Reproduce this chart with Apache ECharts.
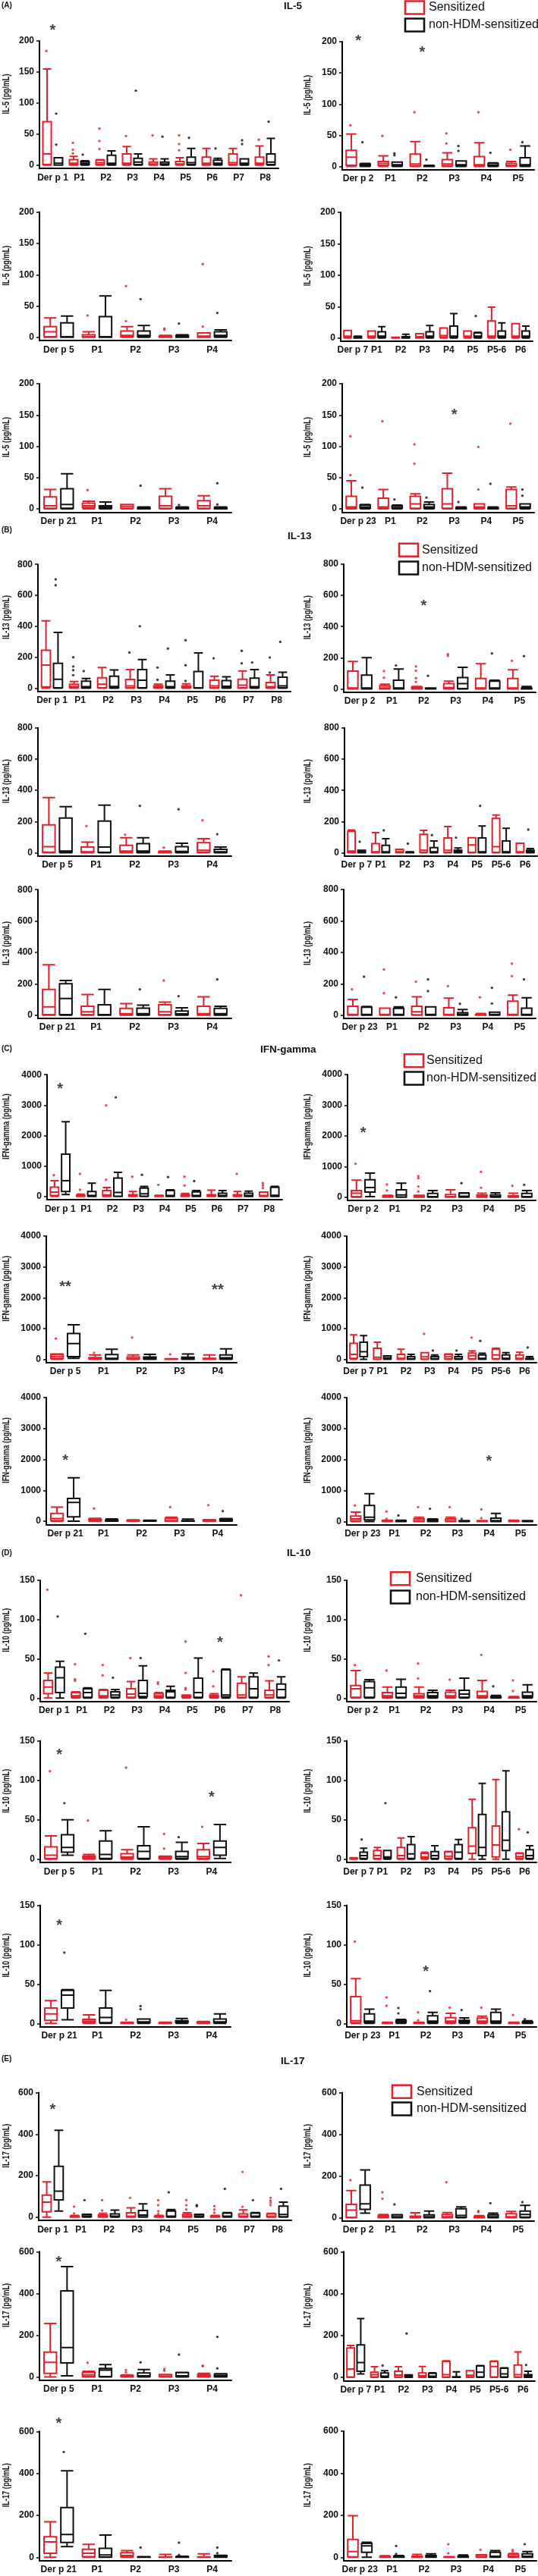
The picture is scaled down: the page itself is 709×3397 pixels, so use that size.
<!DOCTYPE html>
<html><head><meta charset="utf-8">
<script src="https://cdn.jsdelivr.net/npm/echarts@6/dist/echarts.min.js"></script>
<style>html,body{margin:0;padding:0;background:#fff}#c{width:709px;height:3397px}</style>
</head><body><div id="c"></div>
<script>
// ---------- categories ----------
const catsDerp1 = ['Der p 1','P1','P2','P3','P4','P5','P6','P7','P8'];
const catsDerp2 = ['Der p 2','P1','P2','P3','P4','P5'];
const catsDerp5 = ['Der p 5','P1','P2','P3','P4'];
const catsDerp7 = ['Der p 7','P1','P2','P3','P4','P5','P5-6','P6'];
const catsDerp21 = ['Der p 21','P1','P2','P3','P4'];
const catsDerp23 = ['Der p 23','P1','P2','P3','P4','P5'];

// ---------- tick labels ----------
const il5Ticks = [0,50,100,150,200];
const il13Ticks = [0,200,400,600,800];
const ifnTicks = [0,1000,2000,3000,4000];
const il10Ticks = [0,50,100,150];
const il17Ticks = [0,200,400,600];

// ---------- IL-5 ----------  box = [min,Q1,median,Q3,max]
const il5_derp1_sens = [[0,1,18,70,155],[0,1,3,9,14],[0,1,4,8,9],[0,1,3,18,30],[0,1,2,5,10],[0,1,2,6,12],[0,1,3,13,27],[0,1,4,18,27],[0,1,3,13,31]];
const il5_derp1_ctrl = [[0,0,3,12,12],[0,1,3,6,7],[0,1,3,16,23],[0,1,5,11,18],[0,1,2,5,10],[0,1,4,13,27],[0,1,3,8,11],[0,1,3,10,10],[0,1,5,18,43]];
const il5_derp1_sensOut = [[184],[36,25,19],[59,39,26],[47],[48],[48,34,24],[],[],[41]];
const il5_derp1_ctrlOut = [[83,33],[17],[],[120],[46],[44],[27],[40,34],[70]];
const il5_derp1_stars = [[0,223,'*']];

const il5_derp2_sens = [[0,2,15,26,52],[0,2,5,8,17],[0,1,4,20,40],[0,1,4,11,22],[0,1,3,16,38],[0,1,2,5,8]];
const il5_derp2_ctrl = [[0,1,2,4,5],[0,1,3,7,7],[0,0,1,1,2],[0,1,3,9,9],[0,1,2,5,6],[0,1,3,14,33]];
const il5_derp2_sensOut = [[66],[49],[87],[53,37],[87],[27]];
const il5_derp2_ctrlOut = [[39],[21,18],[11],[33,25],[22],[39]];
const il5_derp2_stars = [[0,207,'*'],[2,189,'*']];

const il5_derp5_sens = [[0,1,9,17,31],[0,0,1,4,9],[0,1,3,10,17],[0,0,1,2,3],[0,0,2,7,7]];
const il5_derp5_ctrl = [[0,0,1,23,34],[0,0,1,33,66],[0,1,3,10,19],[0,0,1,3,4],[0,1,3,9,12]];
const il5_derp5_sensOut = [[],[35],[82,26],[14,12],[117,17]];
const il5_derp5_ctrlOut = [[],[],[61],[22],[39]];

const il5_derp7_sens = [[0,1,3,12,12],[0,1,3,11,11],[0,0,0,1,1],[0,0,2,7,7],[0,1,4,16,16],[0,1,3,11,11],[0,1,3,27,49],[0,1,3,23,23]];
const il5_derp7_ctrl = [[0,0,1,2,3],[0,1,3,10,18],[0,0,1,2,6],[0,1,3,10,20],[0,1,3,19,39],[0,1,3,8,9],[0,1,3,11,24],[0,1,3,11,19]];
const il5_derp7_sensOut = [[],[],[],[],[],[],[],[]];
const il5_derp7_ctrlOut = [[],[],[],[],[],[35],[],[]];

const il5_derp21_sens = [[0,1,5,19,31],[0,2,5,9,12],[0,1,4,7,7],[0,1,5,20,32],[0,1,5,13,21]];
const il5_derp21_ctrl = [[0,1,7,32,56],[0,1,3,5,11],[0,0,1,2,3],[0,0,1,2,3],[0,0,1,2,3]];
const il5_derp21_sensOut = [[],[30],[],[],[]];
const il5_derp21_ctrlOut = [[],[],[37],[6],[41,7]];

const il5_derp23_sens = [[0,1,3,20,45],[0,1,3,17,31],[0,1,8,20,24],[0,1,8,32,57],[0,1,3,8,8],[0,1,5,31,35]];
const il5_derp23_ctrl = [[0,1,3,6,7],[0,1,2,5,6],[0,1,3,7,11],[0,0,1,2,3],[0,0,1,2,3],[0,1,3,8,8]];
const il5_derp23_sensOut = [[116,54],[140],[103,72],[],[99,31],[136]];
const il5_derp23_ctrlOut = [[34],[15],[18],[11],[40],[31,21]];
const il5_derp23_stars = [[3,156,'*']];

// ---------- IL-13 ----------
const il13_derp1_sens = [[0,8,150,245,435],[0,3,11,26,43],[0,3,26,67,133],[0,2,15,56,120],[0,2,6,15,26],[0,2,6,15,28],[0,3,15,52,77],[0,2,19,58,112],[0,2,10,37,86]];
const il13_derp1_ctrl = [[0,2,58,161,360],[0,2,10,45,62],[0,2,11,77,118],[0,3,52,120,185],[0,2,10,45,86],[0,1,3,108,228],[0,2,12,49,73],[0,2,10,65,120],[0,3,15,71,103]];
const il13_derp1_sensOut = [[],[200,140,116,84],[],[230],[133,54],[310,148,47],[193],[241,161],[198,101]];
const il13_derp1_ctrlOut = [[703,665],[110],[],[400],[256],[],[],[166],[299]];

const il13_derp2_sens = [[0,1,5,114,176],[0,1,6,19,30],[0,1,4,12,15],[0,2,8,34,49],[0,1,5,67,161],[0,1,5,67,122]];
const il13_derp2_ctrl = [[0,1,5,88,200],[0,1,5,56,127],[0,0,1,4,6],[0,2,34,73,138],[0,1,5,50,56],[0,0,2,5,15]];
const il13_derp2_sensOut = [[],[114,71],[144,116,69,45],[222,212],[],[180]];
const il13_derp2_ctrlOut = [[],[150],[84],[],[227],[210]];
const il13_derp2_stars = [[2,556,'*']];

const il13_derp5_sens = [[0,3,39,178,353],[0,1,6,36,68],[0,2,10,47,96],[0,0,2,5,10],[0,3,15,64,90]];
const il13_derp5_ctrl = [[0,2,11,222,295],[0,2,36,203,304],[0,2,10,58,96],[0,2,8,38,60],[0,2,6,21,36]];
const il13_derp5_sensOut = [[],[171],[115],[32],[207]];
const il13_derp5_ctrlOut = [[],[],[300],[278],[118]];

const il13_derp7_sens = [[0,2,10,137,145],[0,1,5,58,128],[0,1,5,21,21],[0,2,15,118,143],[0,2,15,94,167],[0,2,49,96,96],[0,2,38,220,242],[0,1,5,60,60]];
const il13_derp7_ctrl = [[0,1,5,15,15],[0,1,5,47,90],[0,0,1,3,5],[0,1,5,32,75],[0,1,5,15,30],[0,1,5,94,171],[0,1,5,75,156],[0,1,5,15,26]];
const il13_derp7_sensOut = [[],[],[],[],[],[],[],[]];
const il13_derp7_ctrlOut = [[70],[143],[58],[113],[96],[300],[],[148]];

const il13_derp21_sens = [[0,3,53,164,321],[0,3,21,57,132],[0,2,10,43,74],[0,3,21,66,83],[0,2,10,57,117]];
const il13_derp21_ctrl = [[0,3,106,200,221],[0,1,3,66,164],[0,2,10,45,64],[0,2,8,26,47],[0,2,10,43,57]];
const il13_derp21_sensOut = [[],[],[],[221],[]];
const il13_derp21_ctrlOut = [[],[],[164],[121],[228]];

const il13_derp23_sens = [[0,1,5,57,100],[0,1,5,45,45],[0,2,21,57,117],[0,1,5,47,108],[0,0,1,3,11],[0,1,5,89,128]];
const il13_derp23_ctrl = [[0,1,5,51,55],[0,1,5,43,53],[0,1,5,53,53],[0,1,5,15,36],[0,1,5,19,19],[0,1,5,45,111]];
const il13_derp23_sensOut = [[164],[291,140],[213],[185],[113],[328,249]];
const il13_derp23_ctrlOut = [[245],[113],[228,153],[72],[174,74],[228]];

// ---------- IFN-gamma ----------
const ifn_derp1_sens = [[0,33,142,307,515],[0,5,15,40,77],[0,10,50,197,296],[0,5,20,55,164],[0,2,10,25,40],[0,5,20,55,99],[0,5,20,55,208],[0,5,20,55,164],[0,5,30,142,142]];
const ifn_derp1_ctrl = [[66,164,515,1392,2455],[0,5,30,164,438],[0,10,131,603,789],[0,5,88,274,329],[0,5,30,197,219],[0,5,30,153,197],[0,5,30,110,197],[0,5,30,110,175],[0,10,40,300,330]];
const ifn_derp1_sensOut = [[700],[745,219],[2990,548],[647],[384],[647,362],[],[745],[438,362,274]];
const ifn_derp1_ctrlOut = [[],[],[3255],[712],[636],[504],[],[],[]];
const ifn_derp1_stars = [[0,3640,'*']];

const ifn_derp2_sens = [[0,20,131,218,556],[0,2,10,44,60],[0,2,10,55,60],[0,5,20,87,240],[0,5,20,65,131],[0,2,10,44,131]];
const ifn_derp2_ctrl = [[20,163,316,567,785],[0,5,76,240,458],[0,5,20,120,218],[0,5,30,131,140],[0,5,20,76,142],[0,5,20,120,218]];
const ifn_derp2_sensOut = [[1090],[414,218],[687,620,349,185],[],[828,305],[370]];
const ifn_derp2_ctrlOut = [[],[],[],[458],[],[403]];
const ifn_derp2_stars = [[0,2213,'*']];

const ifn_derp5_sens = [[0,30,90,163,170],[0,5,20,54,141],[0,5,20,76,141],[0,2,5,15,20],[0,2,10,33,141]];
const ifn_derp5_ctrl = [[33,87,510,835,1117],[0,5,30,152,325],[0,5,30,76,163],[0,5,20,65,173],[0,10,50,141,336]];
const ifn_derp5_sensOut = [[672],[210],[705],[163],[]];
const ifn_derp5_ctrlOut = [[],[],[],[],[]];
const ifn_derp5_stars = [[0,2450,'**'],[4,2360,'**']];

const ifn_derp7_sens = [[0,30,163,520,791],[0,5,65,358,553],[0,5,30,163,325],[0,5,80,217,217],[0,10,80,163,170],[0,20,119,206,271],[0,20,141,325,358],[0,5,30,141,228]];
const ifn_derp7_ctrl = [[0,87,249,553,770],[0,5,50,108,110],[0,5,20,87,163],[0,5,20,87,141],[0,5,20,87,163],[0,5,30,141,195],[0,5,30,141,217],[0,2,10,30,87]];
const ifn_derp7_sensOut = [[],[],[],[824],[],[705],[],[]];
const ifn_derp7_ctrlOut = [[],[],[],[282],[282],[596],[],[380]];

const ifn_derp21_sens = [[0,20,86,249,454],[0,5,20,65,90],[0,5,15,30,40],[0,5,20,86,130],[0,2,10,43,50]];
const ifn_derp21_ctrl = [[0,140,605,735,1405],[0,5,20,43,76],[0,3,10,25,30],[0,1,5,10,65],[0,5,20,65,86]];
const ifn_derp21_sensOut = [[],[411],[],[454],[519]];
const ifn_derp21_ctrlOut = [[],[],[],[],[324]];
const ifn_derp21_stars = [[0,2065,'*']];

const ifn_derp23_sens = [[0,20,86,173,303],[0,2,5,32,40],[0,5,20,86,140],[0,5,20,86,140],[0,1,5,20,30],[0,2,10,30,40]];
const ifn_derp23_ctrl = [[0,54,140,519,897],[0,2,10,30,40],[0,5,20,65,86],[0,1,5,20,30],[0,5,30,108,259],[0,1,5,20,30]];
const ifn_derp23_sensOut = [[519],[324,86],[465],[465],[389,108],[]];
const ifn_derp23_ctrlOut = [[],[195],[411],[86],[],[]];
const ifn_derp23_stars = [[4,2065,'*']];

// ---------- IL-10 ----------
const il10_derp1_sens = [[0,5.5,14,22.5,32],[0,1,3,7,8],[0,1,3,10,11],[0,1,5,12,21],[0,1,3,5.5,7],[0,1,2,3.5,4],[0,1,2,3.5,5.5],[0,1,4,19,27],[0,1,4,10,22]];
const il10_derp1_ctrl = [[0,7,26,39.5,47],[0,1,7,12,13],[0,1,4,8,11],[0,2,6,22.5,41],[0,1,8,10,15],[0,1,7,25.5,51],[0,1.5,4,36,37],[0,1,12,27,32],[0,1,11,18,27]];
const il10_derp1_sensOut = [[138],[43,24,22],[42,29],[51],[20,18],[72,32,13,11],[34,15],[131],[53,42]];
const il10_derp1_ctrlOut = [[104],[82],[26],[51],[],[],[],[],[48]];
const il10_derp1_stars = [[6,75,'*']];

const il10_derp2_sens = [[0,1,12,16,35],[0,1,3,7,14],[0,1,3,5.5,14],[0,1,3,7.6,10],[0,1,3,8.5,22.5],[0,0,0.5,1,2]];
const il10_derp2_ctrl = [[0,1,13,21,23.4],[0,1,6,14,24],[0,1,3,7,10],[0,1,5,10,25.5],[0,0.5,1,2,3.4],[0,1,3,7.6,17]];
const il10_derp2_sensOut = [[42],[35],[44,25],[23.4],[55],[22.5,9]];
const il10_derp2_ctrlOut = [[],[],[],[],[15],[]];

const il10_derp5_sens = [[0,1,5,15.6,29.6],[0,1,2,4,6],[0,1,3,7,12],[0,1,2,3.4,4],[0,1,3.4,12,20]];
const il10_derp5_ctrl = [[5,9,15,31,50],[0,1,6,23,36],[0,1,10,17,41],[0,1,3.4,10,21.5],[1,5,15,23,44]];
const il10_derp5_sensOut = [[111.5],[49],[116],[32,13.5],[41]];
const il10_derp5_ctrlOut = [[71],[],[],[28],[]];
const il10_derp5_stars = [[0,137,'*'],[4,83,'*']];

const il10_derp7_sens = [[0,0.5,1,1.5,2],[0,1,4.6,11,15],[0,1,4.6,15,27],[0,1,3,7.6,9],[0,1,4,9.3,10],[0,7.6,16.5,40,76],[0,3,18,42,101],[0,1,3.4,7.6,8]];
const il10_derp7_ctrl = [[0,1,4.6,9,14],[0,1,3,11,11],[0,1,6.8,18.6,28.7],[0,1,4.6,9.7,17],[0,1,9,18.6,25],[0,4.6,15,56.6,96],[0,11,24,60,112],[0,1,4.6,12,17]];
const il10_derp7_sensOut = [[],[],[],[],[],[],[],[38]];
const il10_derp7_ctrlOut = [[25],[71],[],[],[],[],[],[34]];

const il10_derp21_sens = [[0,4,12,19.5,29],[0,1,3,5,11],[0,0,0.5,1,1.5],[0,0,0.3,0.8,1.5],[0,0.5,1,2,2.5]];
const il10_derp21_ctrl = [[4.7,19.5,36,42,43],[0,1,7.6,19.5,42],[0,1,2,5.5,5.5],[0,1,2,3.4,6.3],[0,1,2,5.5,12]];
const il10_derp21_sensOut = [[],[],[4.7],[],[]];
const il10_derp21_ctrlOut = [[90],[],[22,18],[],[]];
const il10_derp21_stars = [[0,129,'*']];

const il10_derp23_sens = [[0,1,3.4,34,57],[0,0,0.5,1,1.5],[0,0,0.5,1,1.5],[0,1,3,7.2,12.7],[0,1,3,6.8,9.3],[0,0,0.5,1,1.5]];
const il10_derp23_ctrl = [[0,1,3,12,18],[0,1,2,4,5],[0,1,3,9.7,14],[0,1,2,4,7],[0,1,3,14,18],[0,0.5,1,2,3.4]];
const il10_derp23_sensOut = [[104],[33,22.5],[14,4],[20],[20],[10.6]];
const il10_derp23_ctrlOut = [[],[19.5,12.7],[41],[17],[],[5.5]];
const il10_derp23_stars = [[2,70,'*']];

// ---------- IL-17 ----------
const il17_derp1_sens = [[0,26,72,106,170],[0,1,3,5,8],[0,1,5,10,18],[0,2,5,21,45],[0,1,2,5,8],[0,1,5,13,21],[0,1,2,5,8],[0,2,5,16,35],[0,1,5,16,18]];
const il17_derp1_ctrl = [[29,83,125,245,418],[0,2,5,13,14],[0,2,5,16,34],[0,2,10,32,64],[0,2,5,29,37],[0,1,5,13,14],[0,2,5,19,22],[0,2,5,19,22],[0,2,13,53,72]];
const il17_derp1_sensOut = [[],[51,18],[82,32],[93],[82,58,29,16],[82,58,37],[53,37,21],[218,50],[93,80,70,58]];
const il17_derp1_ctrlOut = [[],[82],[],[],[120],[58,53],[136],[82],[136]];
const il17_derp1_stars = [[0,533,'*']];

const il17_derp2_sens = [[0,2,37,64,130],[0,1,5,10,16],[0,1,4,8,24],[0,1,5,16,25],[0,1,2,5,10],[0,1,5,19,30]];
const il17_derp2_ctrl = [[22,40,67,157,229],[0,1,5,14,15],[0,1,5,14,32],[0,2,11,43,52],[0,1,5,14,22],[0,3,16,32,59]];
const il17_derp2_sensOut = [[180],[122,91],[],[170],[32,27],[]];
const il17_derp2_ctrlOut = [[],[64],[],[],[70],[75]];

const il17_derp5_sens = [[0,17.5,70,119,256],[0,2,10,22,27],[0,1,3,6,10],[0,1,3,11,12],[0,1,5,11,17.5]];
const il17_derp5_ctrl = [[5,67,141,412,528],[0,2,33,41,59],[0,2,5,19,35],[0,2,5,21,22],[0,1,5,14,15]];
const il17_derp5_sensOut = [[],[68],[33,22],[38,30],[54,52]];
const il17_derp5_ctrlOut = [[],[],[70],[107],[192,41]];
const il17_derp5_stars = [[0,568,'*']];

const il17_derp7_sens = [[0,2,40,140,152],[0,2,13,24,51],[0,2,11,29,51],[0,1,8,21,52],[0,2,13,76,79],[0,2,10,32,32],[0,2,52,76,78],[0,2,13,59,121]];
const il17_derp7_ctrl = [[16,29,71,155,281],[0,2,5,21,32],[0,1,5,11,12],[0,1,5,19,22],[0,0,1,3,26],[0,2,24,54,56],[0,2,16,43,45],[0,1,5,13,29]];
const il17_derp7_sensOut = [[],[],[],[],[],[],[],[]];
const il17_derp7_ctrlOut = [[],[56],[209],[],[],[],[],[59]];

const il17_derp21_sens = [[0,19,73,98,169],[0,3,19,38,62],[0,2,8,22,32],[0,0,1,2,14],[0,0,1,2,16]];
const il17_derp21_ctrl = [[51,71,109,237,412],[0,1,11,43,106],[0,0,1,2,3],[0,0,1,3,5],[0,1,3,8,9]];
const il17_derp21_sensOut = [[],[],[],[],[]];
const il17_derp21_ctrlOut = [[502],[],[46],[70,11],[46,19]];
const il17_derp21_stars = [[0,652,'*']];

const il17_derp23_sens = [[0,2,27,85,198],[0,0,1,3,7],[0,0,2,5,14],[0,0,1,2,3],[0,1,3,11,12],[0,1,5,14,18]];
const il17_derp23_ctrl = [[0,24,54,66,71],[0,0,1,5,8],[0,1,3,8,16],[0,0,2,5,11],[0,1,5,24,32],[0,1,5,16,27]];
const il17_derp23_sensOut = [[],[],[],[62,19],[35],[35,27]];
const il17_derp23_ctrlOut = [[],[54,16],[],[],[],[62]];

// ---------- layout / styling ----------
const RED = '#e4202a', BLACK = '#111111';
const FONT = '"Liberation Sans", Arial, Helvetica, sans-serif';

function pn(cats, sens, ctrl, sOut, cOut, stars, g, opts) {
  return Object.assign({cats, sens, ctrl, sOut, cOut, stars: stars || [], g}, opts || {});
}

const sections = [
  {letter:'(A)', letterY:8, title:'IL-5', titleX:374, titleY:9, yName:'IL-5 (pg/mL)', max:200, ticks:il5Ticks,
   leg:{boxX:534, textX:565, y1:10, y2:33},
   panels:[
    pn(catsDerp1, il5_derp1_sens, il5_derp1_ctrl, il5_derp1_sensOut, il5_derp1_ctrlOut, il5_derp1_stars, [52,54.1,217.8,315]),
    pn(catsDerp2, il5_derp2_sens, il5_derp2_ctrl, il5_derp2_sensOut, il5_derp2_ctrlOut, il5_derp2_stars, [451,55,219.6,253]),
    pn(catsDerp5, il5_derp5_sens, il5_derp5_ctrl, il5_derp5_sensOut, il5_derp5_ctrlOut, [], [52,279.8,444.8,253]),
    pn(catsDerp7, il5_derp7_sens, il5_derp7_ctrl, il5_derp7_sensOut, il5_derp7_ctrlOut, [], [449,280,445.7,253]),
    pn(catsDerp21, il5_derp21_sens, il5_derp21_ctrl, il5_derp21_sensOut, il5_derp21_ctrlOut, [], [52,506,671,253]),
    pn(catsDerp23, il5_derp23_sens, il5_derp23_ctrl, il5_derp23_sensOut, il5_derp23_ctrlOut, il5_derp23_stars, [451,506,671,253])
  ]},
  {letter:'(B)', letterY:700, title:'IL-13', titleX:379, titleY:708.6, yName:'IL-13 (pg/mL)', max:800, ticks:il13Ticks,
   leg:{boxX:526, textX:556, y1:725.3, y2:749},
   panels:[
    pn(catsDerp1, il13_derp1_sens, il13_derp1_ctrl, il13_derp1_sensOut, il13_derp1_ctrlOut, [], [50,744.2,907.5,333], {sOutColor:BLACK}),
    pn(catsDerp2, il13_derp2_sens, il13_derp2_ctrl, il13_derp2_sensOut, il13_derp2_ctrlOut, il13_derp2_stars, [453,744,908.4,253]),
    pn(catsDerp5, il13_derp5_sens, il13_derp5_ctrl, il13_derp5_sensOut, il13_derp5_ctrlOut, [], [50,959.8,1124.4,255]),
    pn(catsDerp7, il13_derp7_sens, il13_derp7_ctrl, il13_derp7_sensOut, il13_derp7_ctrlOut, [], [454,960,1124.4,254]),
    pn(catsDerp21, il13_derp21_sens, il13_derp21_ctrl, il13_derp21_sensOut, il13_derp21_ctrlOut, [], [50,1173.2,1338.7,255]),
    pn(catsDerp23, il13_derp23_sens, il13_derp23_ctrl, il13_derp23_sensOut, il13_derp23_ctrlOut, [], [453,1173,1338.7,253])
  ]},
  {letter:'(C)', letterY:1384, title:'IFN-gamma', titleX:343, titleY:1385.5, yName:'IFN-gamma (pg/mL)', max:4000, ticks:ifnTicks,
   leg:{boxX:533, textX:562, y1:1398.7, y2:1422},
   panels:[
    pn(catsDerp1, ifn_derp1_sens, ifn_derp1_ctrl, ifn_derp1_sensOut, ifn_derp1_ctrlOut, ifn_derp1_stars, [62,1417.2,1577.8,310]),
    pn(catsDerp2, ifn_derp2_sens, ifn_derp2_ctrl, ifn_derp2_sensOut, ifn_derp2_ctrlOut, ifn_derp2_stars, [458,1417,1578.7,248]),
    pn(catsDerp5, ifn_derp5_sens, ifn_derp5_ctrl, ifn_derp5_sensOut, ifn_derp5_ctrlOut, ifn_derp5_stars, [61,1630,1792.5,251]),
    pn(catsDerp7, ifn_derp7_sens, ifn_derp7_ctrl, ifn_derp7_sensOut, ifn_derp7_ctrlOut, [], [457,1630,1792.5,250]),
    pn(catsDerp21, ifn_derp21_sens, ifn_derp21_ctrl, ifn_derp21_sensOut, ifn_derp21_ctrlOut, ifn_derp21_stars, [61,1843,2006,251]),
    pn(catsDerp23, ifn_derp23_sens, ifn_derp23_ctrl, ifn_derp23_sensOut, ifn_derp23_ctrlOut, ifn_derp23_stars, [457,1843,2006.4,250])
  ]},
  {letter:'(D)', letterY:2049, title:'IL-10', titleX:378, titleY:2049.7, yName:'IL-10 (pg/mL)', max:150, ticks:il10Ticks,
   leg:{boxX:515, textX:548, y1:2081.8, y2:2106},
   panels:[
    pn(catsDerp1, il10_derp1_sens, il10_derp1_ctrl, il10_derp1_sensOut, il10_derp1_ctrlOut, il10_derp1_stars, [53,2084,2239.3,328]),
    pn(catsDerp2, il10_derp2_sens, il10_derp2_ctrl, il10_derp2_sensOut, il10_derp2_ctrlOut, [], [457,2084,2239.3,250]),
    pn(catsDerp5, il10_derp5_sens, il10_derp5_ctrl, il10_derp5_sensOut, il10_derp5_ctrlOut, il10_derp5_stars, [53,2295.6,2451.8,251]),
    pn(catsDerp7, il10_derp7_sens, il10_derp7_ctrl, il10_derp7_sensOut, il10_derp7_ctrlOut, [], [457,2295.6,2451.8,250]),
    pn(catsDerp21, il10_derp21_sens, il10_derp21_ctrl, il10_derp21_sensOut, il10_derp21_ctrlOut, il10_derp21_stars, [53,2512.6,2668.3,251]),
    pn(catsDerp23, il10_derp23_sens, il10_derp23_ctrl, il10_derp23_sensOut, il10_derp23_ctrlOut, il10_derp23_stars, [457,2512.6,2668.3,250])
  ]},
  {letter:'(E)', letterY:2716.6, title:'IL-17', titleX:370, titleY:2718.8, yName:'IL-17 (pg/mL)', max:600, ticks:il17Ticks,
   leg:{boxX:517, textX:549, y1:2758.2, y2:2781},
   panels:[
    pn(catsDerp1, il17_derp1_sens, il17_derp1_ctrl, il17_derp1_sensOut, il17_derp1_ctrlOut, il17_derp1_stars, [51,2759.5,2923.8,333]),
    pn(catsDerp2, il17_derp2_sens, il17_derp2_ctrl, il17_derp2_sensOut, il17_derp2_ctrlOut, [], [451,2759.5,2924.6,253]),
    pn(catsDerp5, il17_derp5_sens, il17_derp5_ctrl, il17_derp5_sensOut, il17_derp5_ctrlOut, il17_derp5_stars, [52,2969.3,3134.5,253]),
    pn(catsDerp7, il17_derp7_sens, il17_derp7_ctrl, il17_derp7_sensOut, il17_derp7_ctrlOut, [], [453,2969.3,3135,252]),
    pn(catsDerp21, il17_derp21_sens, il17_derp21_ctrl, il17_derp21_sensOut, il17_derp21_ctrlOut, il17_derp21_stars, [52,3206.3,3372.3,253]),
    pn(catsDerp23, il17_derp23_sens, il17_derp23_ctrl, il17_derp23_sensOut, il17_derp23_ctrlOut, [], [453,3206,3372.3,254])
  ]}
];

const grid = [], xAxis = [], yAxis = [], series = [], graphic = [];
const PAD = 4.4;
let k = 0;
sections.forEach(sec => {
  graphic.push({type:'text', left:2, top:sec.letterY - 6, style:{text:sec.letter, font:'bold 10px ' + FONT, fill:'#111'}});
  graphic.push({type:'text', left:sec.titleX, top:sec.titleY - 8, style:{text:sec.title, font:'bold 13.5px ' + FONT, fill:'#111'}});
  const L = sec.leg;
  graphic.push({type:'rect', shape:{x:L.boxX, y:L.y1 - 8.5, width:25, height:17}, style:{fill:'none', stroke:RED, lineWidth:2.6}});
  graphic.push({type:'rect', shape:{x:L.boxX, y:L.y2 - 8.5, width:25, height:17}, style:{fill:'none', stroke:BLACK, lineWidth:2.6}});
  graphic.push({type:'text', x:L.textX, y:L.y1, style:{text:'Sensitized', font:'16px ' + FONT, fill:'#111', verticalAlign:'middle'}});
  graphic.push({type:'text', x:L.textX, y:L.y2, style:{text:'non-HDM-sensitized', font:'16px ' + FONT, fill:'#111', verticalAlign:'middle'}});

  sec.panels.forEach(p => {
    const [left, topY, zeroY, width] = p.g;
    const plotH = zeroY - topY;
    const yMin = -sec.max * PAD / plotH;
    const isRight = left > 300;
    // y-axis title: condensed bold text, rotated
    graphic.push({type:'text', x:isRight ? 406 : 9, y:(topY + zeroY) / 2 - 12,
      rotation:Math.PI / 2, scaleX:0.74, scaleY:1,
      style:{text:sec.yName, font:'bold 12.5px ' + FONT, fill:'#1a1a1a', align:'center', verticalAlign:'middle'}});
    grid.push({left:left, top:topY, width:width, height:plotH + PAD, containLabel:false});
    xAxis.push({gridIndex:k, type:'category', data:p.cats, boundaryGap:true,
      axisLine:{onZero:false, lineStyle:{color:'#000', width:2}},
      axisTick:{alignWithLabel:true, length:4, lineStyle:{color:'#000', width:1.5}},
      axisLabel:{interval:0, hideOverlap:false, fontSize:12, fontWeight:'bold', color:'#111', margin:6, fontFamily:FONT},
      splitLine:{show:false}});
    yAxis.push({gridIndex:k, type:'value', min:yMin, max:sec.max,
      axisLine:{show:true, onZero:false, lineStyle:{color:'#000', width:2}},
      axisTick:{show:true, length:4, lineStyle:{color:'#000', width:1.5}, customValues:sec.ticks},
      axisLabel:{customValues:sec.ticks, formatter:v => String(Math.round(v)), fontSize:12, fontWeight:'bold', color:'#111', margin:7, fontFamily:FONT},
      splitLine:{show:false}});

    // box offsets (match ECharts boxplot side-by-side layout)
    const band = width / p.cats.length;
    const avail = band * 0.8 - 2;
    const gap = avail / 2 * 0.3;
    const bw = avail / 2 - gap;
    const offR = bw / 2 - avail / 2;
    const offB = offR + gap + bw;

    const boxCommon = {type:'boxplot', xAxisIndex:k, yAxisIndex:k, silent:true, animation:false};
    series.push(Object.assign({}, boxCommon, {name:'Sensitized', data:p.sens,
      itemStyle:{color:'rgba(0,0,0,0)', borderColor:RED, borderWidth:2}}));
    series.push(Object.assign({}, boxCommon, {name:'non-HDM-sensitized', data:p.ctrl,
      itemStyle:{color:'rgba(0,0,0,0)', borderColor:BLACK, borderWidth:2}}));
    const flat = arr => arr.flatMap((vals, i) => vals.map(v => [i, v]));
    series.push({type:'scatter', xAxisIndex:k, yAxisIndex:k, silent:true, animation:false, z:5,
      data:flat(p.sOut), symbol:'circle', symbolSize:3.4, symbolOffset:[offR, 0],
      itemStyle:{color:p.sOutColor || RED}});
    series.push({type:'scatter', xAxisIndex:k, yAxisIndex:k, silent:true, animation:false, z:5,
      data:flat(p.cOut), symbol:'circle', symbolSize:3.4, symbolOffset:[offB, 0],
      itemStyle:{color:BLACK}});
    if (p.stars.length) {
      series.push({type:'scatter', xAxisIndex:k, yAxisIndex:k, silent:true, animation:false, clip:false, z:6,
        symbol:'circle', symbolSize:1, itemStyle:{color:'rgba(0,0,0,0)'},
        data:p.stars.map(s => ({value:[s[0], s[1]], label:{show:true, formatter:s[2]}})),
        label:{show:true, position:'inside', offset:[0, 5], fontSize:20, fontWeight:'bold', color:'#111', fontFamily:FONT}});
    }
    k++;
  });
});

const chart = echarts.init(document.getElementById('c'), null, {renderer:'canvas', width:709, height:3397});
chart.setOption({animation:false, backgroundColor:'#fff', grid, xAxis, yAxis, series, graphic});
</script>
</body></html>
